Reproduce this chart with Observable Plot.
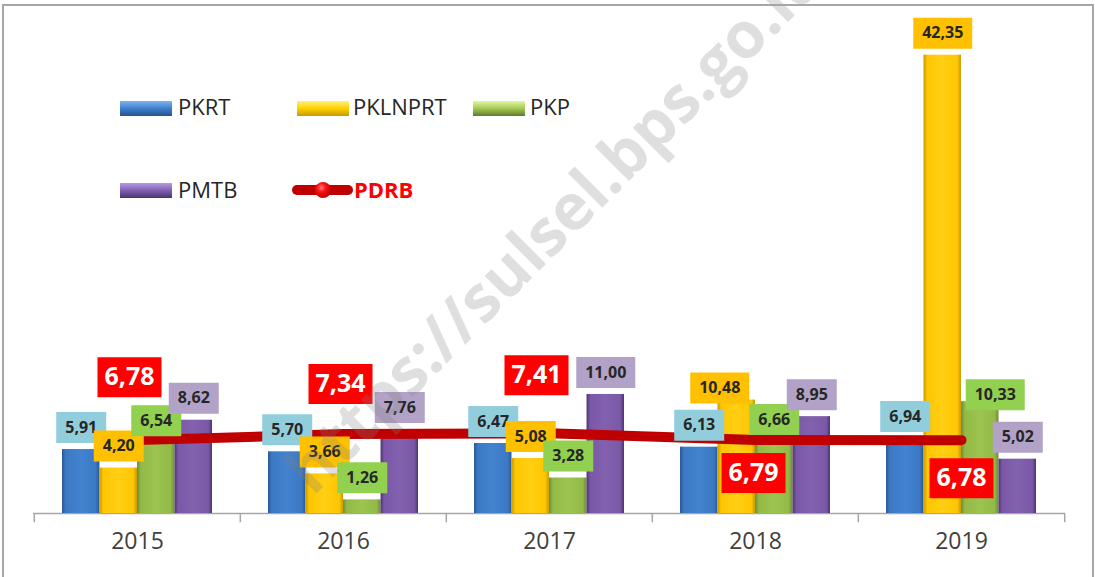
<!DOCTYPE html>
<html><head><meta charset="utf-8">
<script src="https://cdn.jsdelivr.net/npm/d3@7"></script>
<script src="https://cdn.jsdelivr.net/npm/@observablehq/plot@0.6"></script>
<style>
html,body{margin:0;padding:0;background:#fff;}
#wrap{position:relative;width:1095px;height:577px;overflow:hidden;}
#frame{position:absolute;left:2px;top:4px;width:1092px;height:620px;border:2px solid #a6a6a6;box-sizing:border-box;pointer-events:none}
</style></head><body>
<svg width="0" height="0" style="position:absolute">
<defs>
<linearGradient id="g0" x1="0" x2="1" y1="0" y2="0"><stop offset="0" stop-color="#2a5893"/><stop offset="0.1" stop-color="#3b78c4"/><stop offset="0.5" stop-color="#4283d0"/><stop offset="0.9" stop-color="#3b78c4"/><stop offset="1" stop-color="#2a5893"/></linearGradient>
<linearGradient id="g1" x1="0" x2="1" y1="0" y2="0"><stop offset="0" stop-color="#c89a00"/><stop offset="0.1" stop-color="#ffc600"/><stop offset="0.5" stop-color="#ffcf14"/><stop offset="0.9" stop-color="#ffc600"/><stop offset="1" stop-color="#c89a00"/></linearGradient>
<linearGradient id="g2" x1="0" x2="1" y1="0" y2="0"><stop offset="0" stop-color="#6d8a33"/><stop offset="0.1" stop-color="#93b947"/><stop offset="0.5" stop-color="#9cc450"/><stop offset="0.9" stop-color="#93b947"/><stop offset="1" stop-color="#6d8a33"/></linearGradient>
<linearGradient id="g3" x1="0" x2="1" y1="0" y2="0"><stop offset="0" stop-color="#4c3572"/><stop offset="0.1" stop-color="#7a58a7"/><stop offset="0.5" stop-color="#8261ae"/><stop offset="0.9" stop-color="#7a58a7"/><stop offset="1" stop-color="#4c3572"/></linearGradient>
<linearGradient id="s0" x1="0" x2="0" y1="0" y2="1"><stop offset="0" stop-color="#7fb4ef"/><stop offset="0.5" stop-color="#3f7fcc"/><stop offset="1" stop-color="#28548c"/></linearGradient>
<linearGradient id="s1" x1="0" x2="0" y1="0" y2="1"><stop offset="0" stop-color="#fff176"/><stop offset="0.5" stop-color="#ffd000"/><stop offset="1" stop-color="#c89a00"/></linearGradient>
<linearGradient id="s2" x1="0" x2="0" y1="0" y2="1"><stop offset="0" stop-color="#e4f7a0"/><stop offset="0.5" stop-color="#a3c957"/><stop offset="1" stop-color="#5f7b2a"/></linearGradient>
<linearGradient id="s3" x1="0" x2="0" y1="0" y2="1"><stop offset="0" stop-color="#b89ae6"/><stop offset="0.5" stop-color="#7f5fb0"/><stop offset="1" stop-color="#4a3370"/></linearGradient>
<radialGradient id="sdot" cx="0.4" cy="0.35" r="0.7"><stop offset="0" stop-color="#ff8080"/><stop offset="0.4" stop-color="#ff1010"/><stop offset="1" stop-color="#b00000"/></radialGradient>
</defs></svg>
<div id="wrap"><div id="frame"></div></div>
<script>
// ---- data ----
const years = ["2015", "2016", "2017", "2018", "2019"];
const seriesNames = ["PKRT", "PKLNPRT", "PKP", "PMTB"];
const PKRT = [5.91, 5.70, 6.47, 6.13, 6.94];
const PKLNPRT = [4.20, 3.66, 5.08, 10.48, 42.35];
const PKP = [6.54, 1.26, 3.28, 6.66, 10.33];
const PMTB = [8.62, 7.76, 11.00, 8.95, 5.02];
const PDRB = [6.78, 7.34, 7.41, 6.79, 6.78];

// ---- styling / layout config ----
const W = 1095, H = 577, mL = 33, mR = 30, mT = 26, mB = 64;
const pIn = 0.273;
const step = (W - mL - mR) / years.length;
const bw = step * (1 - pIn) / 4;
const barFill = ["url(#g0)", "url(#g1)", "url(#g2)", "url(#g3)"];
const swatchFill = ["url(#s0)", "url(#s1)", "url(#s2)", "url(#s3)"];
const labelBg = ["#92CDDC", "#FFC000", "#92D050", "#B3A2C7"];
const labelNudge = {"2018|PKLNPRT": [-17, 10], "2019|PKP": [15, 15]};
const pdrbNudge = [[-8, -63], [-3, -50], [-13, -58], [-2, 33], [0, 38]];
const fmt = v => v.toFixed(2).replace(".", ",");

const seriesValues = [PKRT, PKLNPRT, PKP, PMTB];
const rows = [];
seriesNames.forEach((s, i) => years.forEach((y, j) => rows.push({year: y, series: s, si: i, value: seriesValues[i][j]})));
const pdrbRows = years.map((y, j) => ({year: y, value: PDRB[j], j}));

const rectSym = (w, h) => ({draw(ctx) {
  ctx.moveTo(-w / 2, -h / 2); ctx.lineTo(w / 2, -h / 2); ctx.lineTo(w / 2, h / 2); ctx.lineTo(-w / 2, h / 2); ctx.closePath();
}});

const marks = [
  Plot.ruleY([0], {stroke: "#a6a6a6", strokeWidth: 1.5}),
  Plot.ruleX(years, {x: d => d, dx: -step / 2, y1: 0, y2: -0.85, stroke: "#a6a6a6", strokeWidth: 1.5}),
  Plot.ruleX(years.slice(-1), {x: d => d, dx: step / 2, y1: 0, y2: -0.85, stroke: "#a6a6a6", strokeWidth: 1.5}),
  Plot.text(years, {x: d => d, text: d => d, frameAnchor: "bottom", dy: 35, fontSize: 23, fill: "#404040"})
];
seriesNames.forEach((s, i) => {
  marks.push(Plot.barY(rows.filter(r => r.series === s), {
    x: "year", y: "value", fill: barFill[i], insetLeft: i * bw, insetRight: (3 - i) * bw
  }));
});
marks.push(Plot.line(pdrbRows, {x: "year", y: "value", stroke: "#C00000", strokeWidth: 10, strokeLinecap: "round", strokeLinejoin: "round"}));
rows.forEach(r => {
  const n = labelNudge[r.year + "|" + r.series] || [0, 0];
  const dx = (r.si - 1.5) * bw + n[0], dy = -22 + n[1];
  const w = fmt(r.value).length > 4 ? 59 : 50;
  marks.push(Plot.dot([r], {x: "year", y: "value", dx, dy, symbol: rectSym(w, 31), fill: labelBg[r.si], stroke: null}));
  marks.push(Plot.text([r], {x: "year", y: "value", dx, dy, text: d => fmt(d.value), fontSize: 16, fontWeight: "bold", fill: "#262626"}));
});
pdrbRows.forEach(r => {
  const [dx, dy] = pdrbNudge[r.j];
  marks.push(Plot.dot([r], {x: "year", y: "value", dx, dy, symbol: rectSym(64, 40), fill: "#FF0000", stroke: null}));
  marks.push(Plot.text([r], {x: "year", y: "value", dx, dy, text: d => fmt(d.value), fontSize: 25, fontWeight: "bold", fill: "#ffffff"}));
});

const chart = Plot.plot({
  width: W, height: H,
  marginLeft: mL, marginRight: mR, marginTop: mT, marginBottom: mB,
  style: {fontFamily: "'Open Sans', sans-serif", background: "transparent", overflow: "visible"},
  x: {type: "band", domain: years, paddingInner: pIn, paddingOuter: pIn / 2, axis: null},
  y: {domain: [0, 45], axis: null},
  marks
});
const wrap = document.getElementById("wrap");
wrap.insertBefore(chart, wrap.firstChild);

// ---- legend (inside plot area) & watermark ----
const svg = d3.select(chart);
const leg = svg.append("g").attr("font-family", "'Open Sans', sans-serif").attr("font-size", 22).attr("text-anchor", "start");
const legItems = [
  {i: 0, x: 120, y: 101, tx: 178, ty: 115},
  {i: 1, x: 297, y: 101, tx: 353, ty: 115},
  {i: 2, x: 473, y: 101, tx: 530, ty: 115},
  {i: 3, x: 120, y: 183, tx: 178, ty: 198}
];
legItems.forEach(it => {
  leg.append("rect").attr("x", it.x).attr("y", it.y).attr("width", 52).attr("height", 15).attr("fill", swatchFill[it.i]);
  leg.append("text").attr("x", it.tx).attr("y", it.ty).attr("fill", "#262626").text(seriesNames[it.i]);
});
leg.append("line").attr("x1", 297).attr("x2", 348).attr("y1", 190).attr("y2", 190).attr("stroke", "#C00000").attr("stroke-width", 10).attr("stroke-linecap", "round");
leg.append("circle").attr("cx", 323).attr("cy", 190).attr("r", 8).attr("fill", "url(#sdot)");
leg.append("text").attr("x", 354).attr("y", 198).attr("fill", "#FF0000").attr("font-weight", "bold").text("PDRB");

svg.append("text")
  .attr("transform", "translate(313,497) rotate(-45)")
  .attr("text-anchor", "start")
  .attr("font-family", "'Open Sans', sans-serif").attr("font-weight", "bold").attr("font-size", 64)
  .attr("fill", "#7f7f7f").attr("fill-opacity", 0.25)
  .text("https://sulsel.bps.go.id");
</script>
</body></html>
